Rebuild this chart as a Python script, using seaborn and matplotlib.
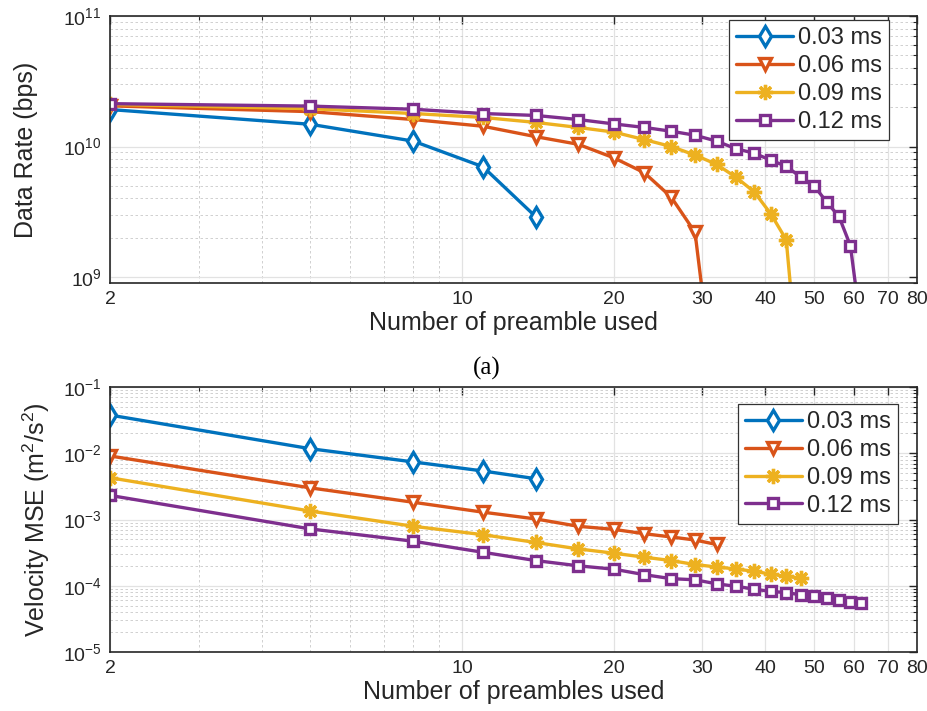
import numpy as np
import pandas as pd
import matplotlib
matplotlib.use("Agg")
import matplotlib.pyplot as plt
import seaborn as sns
from matplotlib.ticker import FixedLocator, NullFormatter, LogLocator, FixedFormatter

# ---------------- data ----------------
labels = ["0.03 ms", "0.06 ms", "0.09 ms", "0.12 ms"]
colors = ["#0072BD", "#D95319", "#EDB120", "#7E2F8E"]

x_003 = [2, 5, 8, 11, 14]
x_006 = [2, 5, 8, 11, 14, 17, 20, 23, 26, 29, 32]
x_009 = [2, 5, 8, 11, 14, 17, 20, 23, 26, 29, 32, 35, 38, 41, 44, 47]
x_012 = [2, 5, 8, 11, 14, 17, 20, 23, 26, 29, 32, 35, 38, 41, 44, 47, 50, 53, 56, 59, 62]

rate_003 = [1.92e10, 1.48e10, 1.10e10, 7.0e9, 2.9e9]
rate_006 = [2.05e10, 1.85e10, 1.61e10, 1.43e10, 1.19e10, 1.04e10, 8.2e9, 6.3e9, 4.1e9, 2.2e9, 1.0e8]
rate_009 = [2.10e10, 1.95e10, 1.79e10, 1.67e10, 1.53e10, 1.40e10, 1.29e10, 1.13e10, 1.0e10,
            8.6e9, 7.3e9, 5.8e9, 4.5e9, 3.05e9, 1.93e9, 1.2e8]
rate_012 = [2.13e10, 2.04e10, 1.93e10, 1.79e10, 1.73e10, 1.61e10, 1.49e10, 1.40e10, 1.31e10,
            1.22e10, 1.10e10, 9.6e9, 8.9e9, 7.85e9, 7.06e9, 5.84e9, 5.0e9, 3.73e9, 2.91e9,
            1.74e9, 4.0e8]

mse_003 = [3.77e-2, 1.17e-2, 7.4e-3, 5.4e-3, 4.13e-3]
mse_006 = [9.1e-3, 3.0e-3, 1.82e-3, 1.29e-3, 1.02e-3, 7.9e-4, 7.1e-4, 6.1e-4, 5.45e-4, 4.9e-4, 4.2e-4]
mse_009 = [4.27e-3, 1.34e-3, 7.9e-4, 5.9e-4, 4.5e-4, 3.6e-4, 3.1e-4, 2.7e-4, 2.4e-4,
           2.09e-4, 1.92e-4, 1.79e-4, 1.65e-4, 1.5e-4, 1.38e-4, 1.31e-4]
mse_012 = [2.31e-3, 7.2e-4, 4.7e-4, 3.2e-4, 2.4e-4, 2.0e-4, 1.78e-4, 1.47e-4, 1.28e-4,
           1.23e-4, 1.07e-4, 9.8e-5, 8.9e-5, 8.2e-5, 7.9e-5, 7.3e-5, 6.9e-5, 6.5e-5, 6.0e-5,
           5.6e-5, 5.5e-5]

xs = [x_003, x_006, x_009, x_012]
rates = [rate_003, rate_006, rate_009, rate_012]
mses = [mse_003, mse_006, mse_009, mse_012]

x_ticks = [2, 10, 20, 30, 40, 50, 60, 70, 80]
x_ticklabels = ["2", "10", "20", "30", "40", "50", "60", "70", "80"]

# ---------------- style ----------------
sns.set_style("white")
plt.rcParams["font.family"] = ["Liberation Sans", "DejaVu Sans"]
plt.rcParams["mathtext.default"] = "regular"

markers = ["d", "v", (8, 2, 0), "s"]
msizes = [10, 9, 11, 7]
mfcs = ["white", "white", "none", "white"]

fig = plt.figure(figsize=(9.28, 7.11), dpi=100)
L, R = 110 / 928, 917 / 928
ax1 = fig.add_axes([L, 1 - 283 / 711, R - L, (283 - 16) / 711])
ax2 = fig.add_axes([L, 1 - 652 / 711, R - L, (652 - 387) / 711])


def style_axes(ax, ylim):
    ax.set_xscale("log")
    ax.set_yscale("log")
    ax.set_xlim(2, 80)
    ax.set_ylim(*ylim)
    ax.xaxis.set_major_locator(FixedLocator(x_ticks))
    ax.xaxis.set_major_formatter(FixedFormatter(x_ticklabels))
    ax.xaxis.set_minor_locator(FixedLocator([3, 4, 5, 6, 7, 8, 9]))
    ax.xaxis.set_minor_formatter(NullFormatter())
    ax.yaxis.set_major_locator(LogLocator(base=10, numticks=20))
    ax.yaxis.set_minor_locator(LogLocator(base=10, subs=np.arange(2, 10), numticks=50))
    ax.yaxis.set_minor_formatter(NullFormatter())
    ax.tick_params(which="both", direction="in", top=True, right=True,
                   colors="#262626", labelcolor="#262626")
    ax.tick_params(which="major", length=6, width=1.0, labelsize=14, pad=6)
    ax.tick_params(which="minor", length=3, width=0.8)
    ax.grid(True, which="major", color="#e2e2e2", lw=0.9, ls="-")
    ax.grid(True, which="minor", color="#c9c9c9", lw=0.6, ls=(0, (3, 3)))
    ax.set_axisbelow(True)
    for s in ax.spines.values():
        s.set_color("#262626")
        s.set_linewidth(1.2)


style_axes(ax1, (9e8, 1e11))
style_axes(ax2, (1e-5, 1e-1))

for ax, ys in ((ax1, rates), (ax2, mses)):
    for i in range(4):
        sns.lineplot(x=xs[i], y=ys[i], ax=ax, color=colors[i], lw=2.4,
                     marker=markers[i], ms=msizes[i], mfc=colors[i] if mfcs[i] == "none" else mfcs[i],
                     mec=colors[i], mew=2.4, label=labels[i], clip_on=True)

ax1.set_xlabel("Number of preamble used", fontsize=18, color="#262626", labelpad=2)
ax1.set_ylabel("Data Rate (bps)", fontsize=18, color="#262626", labelpad=18)
ax2.set_xlabel("Number of preambles used", fontsize=18, color="#262626", labelpad=2)
ax2.set_ylabel("Velocity MSE (m$^2$/s$^2$)", fontsize=18, color="#262626", labelpad=8)

for ax, anchor in ((ax1, (0.965, 0.985)), (ax2, (0.976, 0.936))):
    leg = ax.legend(loc="upper right", bbox_to_anchor=anchor, fontsize=17,
                    frameon=True, fancybox=False, framealpha=1, edgecolor="#333333",
                    handlelength=2.4, handletextpad=0.2, labelspacing=0.25,
                    borderpad=0.3, borderaxespad=0.0)
    leg.get_frame().set_linewidth(0.9)

fig.text(487 / 928, 1 - 368 / 711, "(a)", family=["Liberation Serif", "DejaVu Serif"],
         fontsize=18, ha="center", va="center", color="black")

fig.savefig("out.png", dpi=100)
